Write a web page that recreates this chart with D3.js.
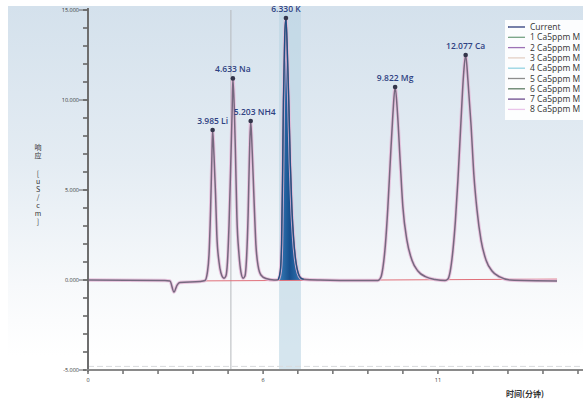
<!DOCTYPE html>
<html>
<head>
<meta charset="utf-8">
<script src="https://cdn.jsdelivr.net/npm/d3@7"></script>
<style>
  body { margin: 0; background: #fff; }
  svg { display: block; font-family: "Open Sans", "Noto Sans", sans-serif; }
  .vert { writing-mode: vertical-rl; text-orientation: upright; }
</style>
</head>
<body>
<svg id="chart"></svg>
<script>
// retention time (min) and response (uS/cm)
var traceTime = [0, 2.46, 2.62, 2.75, 2.85, 2.94, 3.58, 3.74, 3.82, 3.87, 3.92, 3.96, 3.985, 4.03, 4.08, 4.12, 4.19, 4.25, 4.35,
  4.41, 4.46, 4.51, 4.56, 4.61, 4.633, 4.68, 4.72, 4.76, 4.83, 4.89, 4.96, 5.02, 5.07, 5.12, 5.16, 5.203, 5.25, 5.31, 5.37,
  5.44, 5.53, 5.69, 5.95, 6.08, 6.15, 6.19, 6.22, 6.25, 6.29, 6.33, 6.37, 6.42, 6.47, 6.52, 6.58, 6.65, 6.72, 6.8, 6.9,
  7.42, 8.7, 9.27, 9.37,
  9.43, 9.51, 9.59, 9.67, 9.75, 9.822, 9.9, 9.98, 10.07, 10.2, 10.36, 10.55, 10.81, 11.1, 11.42, 11.51, 11.58, 11.67, 11.75,
  11.83, 11.93, 12.01, 12.077, 12.15, 12.25, 12.34, 12.44, 12.57, 12.73, 12.92, 13.17, 13.5, 15.0];
var traceResponse = [0, -0.03, -0.05, -0.67, -0.28, -0.14, -0.08, -0.03, 0.45, 1.4, 3.9, 6.7, 8.33, 6.9, 4.7, 2.5, 1.0, 0.4, 0.1,
  0.22, 1.0, 3.05, 6.1, 9.45, 11.2, 9.45, 6.7, 3.6, 1.4, 0.45, 0.1, 0.22, 1.2, 3.6, 6.7, 8.83, 7.2, 4.45, 1.95,
  0.78, 0.28, 0.08, 0, 0.02, 0.5, 2.0, 5.5, 10.0, 13.5, 14.55, 13.0, 10.0, 6.5, 4.0, 2.2, 1.0, 0.4, 0.12, 0.04,
  0, -0.03, -0.03, 0.17,
  0.67, 1.95, 4.05, 6.7, 9.2, 10.72, 9.2, 6.7, 4.05, 2.2, 1.1, 0.5, 0.17, 0.03, -0.03, 0.05, 0.45, 1.65, 3.3,
  5.55, 8.9, 11.4, 12.5, 11.1, 8.6, 5.85, 3.9, 2.2, 1.1, 0.5, 0.17, 0, -0.05];

var peakTimes = [3.985, 4.633, 5.203, 6.330, 9.822, 12.077];
var peakHeights = [8.33, 11.2, 8.83, 14.55, 10.72, 12.5];
var peakNames = ["Li", "Na", "NH4", "K", "Mg", "Ca"];

var baselineTime = [3.6, 15.0];
var baselineResponse = [-0.05, 0.05];

var yTickValues = [15, 10, 5, 0, -5];
var yTickLabels = ["15.000", "10.000", "5.000", "0.000", "-5.000"];
var xTickValues = [0, 1.12, 2.24, 3.36, 4.48, 5.6, 6.71, 7.83, 8.95, 10.07, 11.19, 12.31, 13.43, 14.55, 15.67];
var xTickLabels = ["0", "", "", "", "", "6", "", "", "", "", "11", "", "", "", ""];

var cursorTime = 4.57;
var bandTime = [6.11, 6.81];

var legendNames = ["Current", "1 Ca5ppm M", "2 Ca5ppm M", "3 Ca5ppm M", "4 Ca5ppm M",
  "5 Ca5ppm M", "6 Ca5ppm M", "7 Ca5ppm M", "8 Ca5ppm M"];
var legendColors = ["#2e3d7a", "#77a384", "#9d72b5", "#e3cfc4", "#93d3e2", "#8c8c8c", "#5f7d66", "#6b4a8c", "#eac4ea"];

var width = 583, height = 400;
var svg = d3.select("#chart").attr("width", width).attr("height", height);

var x = d3.scaleLinear().domain([0, 15.83]).range([88, 583]);
var y = d3.scaleLinear().domain([-5, 15]).range([370, 10]);

// background gradient
var defs = svg.append("defs");
var grad = defs.append("linearGradient").attr("id", "bg").attr("x1", 0).attr("y1", 0).attr("x2", 0).attr("y2", 1);
grad.append("stop").attr("offset", "0%").attr("stop-color", "#d4e1ec");
grad.append("stop").attr("offset", "45%").attr("stop-color", "#e4ecf3");
grad.append("stop").attr("offset", "80%").attr("stop-color", "#f7f9fb");
grad.append("stop").attr("offset", "100%").attr("stop-color", "#ffffff");
svg.append("rect").attr("x", 8).attr("y", 6).attr("width", width - 8).attr("height", 350).attr("fill", "url(#bg)");

var kGrad = defs.append("linearGradient").attr("id", "kfill").attr("x1", 0).attr("y1", 0).attr("x2", 1).attr("y2", 0);
kGrad.append("stop").attr("offset", "0%").attr("stop-color", "#3a80bb");
kGrad.append("stop").attr("offset", "45%").attr("stop-color", "#17508e");
kGrad.append("stop").attr("offset", "100%").attr("stop-color", "#3a80bb");

// highlighted band and cursor line
svg.append("rect")
  .attr("x", x(bandTime[0])).attr("y", y(15))
  .attr("width", x(bandTime[1]) - x(bandTime[0])).attr("height", y(-5) - y(15))
  .attr("fill", "#b9d3e3").attr("opacity", 0.6);
svg.append("line")
  .attr("x1", x(cursorTime)).attr("x2", x(cursorTime))
  .attr("y1", y(15)).attr("y2", y(-5))
  .attr("stroke", "#b5b8bc").attr("stroke-width", 1);

// faint line above x axis
svg.append("line").attr("x1", 88).attr("x2", width).attr("y1", y(-4.8)).attr("y2", y(-4.8))
  .attr("stroke", "#d8dadd").attr("stroke-width", 1).attr("stroke-dasharray", "6,3");

var trace = traceTime.map((t, i) => ({ t: t, v: traceResponse[i] }));
var line = d3.line().x(d => x(d.t)).y(d => y(d.v)).curve(d3.curveMonotoneX);

// K peak filled
var kPart = trace.filter(d => d.t >= 6.08 && d.t <= 6.9);
var area = d3.area().x(d => x(d.t)).y0(y(0)).y1(d => y(d.v)).curve(d3.curveMonotoneX);
svg.append("path").datum(kPart).attr("d", area).attr("fill", "url(#kfill)");

// red integration baseline
svg.append("path")
  .datum(baselineTime.map((t, i) => ({ t: t, v: baselineResponse[i] })))
  .attr("d", line).attr("fill", "none").attr("stroke", "#e0707a").attr("stroke-width", 1);

// overlaid traces
svg.append("path").datum(trace).attr("d", line)
  .attr("fill", "none").attr("stroke", "#e6b9d8").attr("stroke-width", 3.4).attr("opacity", 0.8);
svg.append("path").datum(trace).attr("d", line)
  .attr("fill", "none").attr("stroke", "#76687f").attr("stroke-width", 1.5);
svg.append("path").datum(kPart).attr("d", line)
  .attr("fill", "none").attr("stroke", "#1d4f86").attr("stroke-width", 1.2);

// peak markers and labels
var peaks = peakTimes.map((t, i) => ({ t: t, v: peakHeights[i], name: peakNames[i] }));
svg.selectAll(".pk").data(peaks).enter().append("circle")
  .attr("cx", d => x(d.t)).attr("cy", d => y(d.v)).attr("r", 2.3).attr("fill", "#33354a");
svg.selectAll(".pl").data(peaks).enter().append("text")
  .attr("x", d => x(d.t) + (d.name == "NH4" ? 4 : 0))
  .attr("y", d => y(d.v) - 6)
  .attr("text-anchor", "middle")
  .attr("font-size", "8.5px").attr("font-weight", 600).attr("fill", "#2f4282")
  .text(d => d.t.toFixed(3) + " " + d.name);

// y axis
svg.append("line").attr("x1", 88).attr("x2", 88).attr("y1", 8).attr("y2", 372)
  .attr("stroke", "#6e6e6e").attr("stroke-width", 2);
var minor = d3.range(-5, 16, 1);
svg.selectAll(".ym").data(minor).enter().append("line")
  .attr("x1", 83).attr("x2", 88).attr("y1", d => y(d)).attr("y2", d => y(d))
  .attr("stroke", "#666").attr("stroke-width", 1.6);
svg.selectAll(".yt").data(yTickValues).enter().append("line")
  .attr("x1", 79).attr("x2", 88).attr("y1", d => y(d)).attr("y2", d => y(d))
  .attr("stroke", "#666").attr("stroke-width", 1);
svg.selectAll(".yl").data(yTickValues).enter().append("text")
  .attr("x", 79).attr("y", d => y(d) + 2)
  .attr("text-anchor", "end").attr("font-size", "5.5px").attr("fill", "#333")
  .text((d, i) => yTickLabels[i]);

// x axis
svg.append("line").attr("x1", 86).attr("x2", width).attr("y1", y(-5)).attr("y2", y(-5))
  .attr("stroke", "#8a8a8a").attr("stroke-width", 2.2);
svg.selectAll(".xt").data(xTickValues).enter().append("line")
  .attr("x1", d => x(d)).attr("x2", d => x(d)).attr("y1", y(-5)).attr("y2", y(-5) + 4)
  .attr("stroke", "#777").attr("stroke-width", 1.6);
svg.selectAll(".xl").data(xTickValues).enter().append("text")
  .attr("x", d => x(d)).attr("y", y(-5) + 12)
  .attr("text-anchor", "middle").attr("font-size", "5.5px").attr("fill", "#333")
  .text((d, i) => xTickLabels[i]);

// axis titles (stacked vertically)
svg.append("text").attr("class", "vert").attr("x", 38).attr("y", 144)
  .attr("font-size", "7px").attr("fill", "#333").attr("letter-spacing", "1px")
  .attr("font-family", "'Noto Sans CJK SC', sans-serif")
  .text("响应");
svg.append("text").attr("class", "vert").attr("x", 38).attr("y", 170)
  .attr("font-size", "7px").attr("fill", "#333").attr("letter-spacing", "1px")
  .attr("font-family", "'Noto Sans CJK SC', sans-serif")
  .text("[uS/cm]");
svg.append("text").attr("x", 525).attr("y", 397)
  .attr("text-anchor", "middle").attr("font-size", "8px").attr("font-weight", "bold").attr("fill", "#333")
  .attr("font-family", "'Noto Sans CJK SC', sans-serif")
  .text("时间(分钟)");

// legend
var lg = svg.append("g");
lg.append("rect").attr("x", 505).attr("y", 20).attr("width", 90).attr("height", 100)
  .attr("fill", "#fff").attr("opacity", 0.92);
legendNames.forEach((n, i) => {
  var ly = 27 + i * 10.3;
  lg.append("line").attr("x1", 508).attr("x2", 525).attr("y1", ly).attr("y2", ly)
    .attr("stroke", legendColors[i]).attr("stroke-width", 1.3);
  lg.append("text").attr("x", 530).attr("y", ly + 3)
    .attr("font-size", "8.5px").attr("fill", "#333").text(n);
});
</script>
</body>
</html>
